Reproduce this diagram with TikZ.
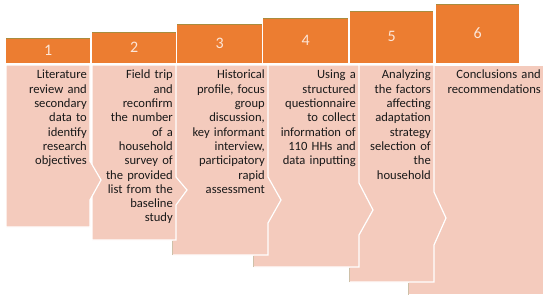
\documentclass[tikz,border=0pt]{standalone}
\usepackage{fontspec}
\setmainfont{Carlito}
\usetikzlibrary{positioning}
\definecolor{stageorange}{RGB}{236,125,49}
\definecolor{stagepink}{RGB}{244,203,189}
\definecolor{stagenum}{RGB}{252,230,216}
\definecolor{stageolive}{RGB}{168,140,62}
\definecolor{stagetan}{RGB}{206,192,168}
\begin{document}
\begin{tikzpicture}[x=1pt, y=-1pt,
        header/.style={rectangle, fill=stageorange, draw=none, anchor=south west, inner sep=0pt, minimum width=84pt, text=stagenum, font=\fontsize{16}{18}\selectfont},
        headtop/.style={draw=stageolive, line width=1.5pt},
        panel/.style={fill=stagepink, draw=white, line width=1.2pt, line join=miter},
        edge/.style={draw=stagetan, line width=1pt},
        steptext/.style={anchor=north east, align=right, text width=110pt, inner sep=0pt, text=black!90, font=\fontsize{12.6}{14.3}\selectfont}
    ]
        \useasboundingbox (0,0) rectangle (550,300);
        \path[panel] (408,65) -- (544,65) -- (544,295) -- (408,295) -- cycle;
        \path[panel] (349,65) -- (434,65) -- (434,192) -- (446,218) -- (434,245) -- (434,282) -- (349,282) -- cycle;
        \path[panel] (253,65) -- (359,65) -- (359,183) -- (373,210) -- (359,235) -- (359,267) -- (253,267) -- cycle;
        \path[panel] (172,65) -- (268,65) -- (268,177) -- (281,200) -- (268,223) -- (268,255) -- (172,255) -- cycle;
        \path[panel] (92,65) -- (176,65) -- (176,177) -- (187,190) -- (176,205) -- (176,240) -- (92,240) -- cycle;
        \path[panel] (6,65) -- (90,65) -- (90,161) -- (101,180) -- (90,200) -- (90,227) -- (6,227) -- cycle;
        \draw[edge] (172.5,240.5) -- (172.5,255);
        \draw[edge] (253.5,255.5) -- (253.5,267);
        \draw[edge] (349.5,267.5) -- (349.5,282);
        \draw[edge] (408.5,282.5) -- (408.5,295);

        \node[header, minimum height=25pt] (h1) at (6,63) {1};
        \node[header, minimum height=31pt] (h2) at (92,63) {2};
        \node[header, minimum height=39pt, minimum width=85pt] (h3) at (177,63) {3};
        \node[header, minimum height=45pt, minimum width=85pt] (h4) at (263,63) {4};
        \node[header, minimum height=52pt, minimum width=83pt] (h5) at (350,63) {5};
        \node[header, minimum height=59pt, minimum width=83pt] (h6) at (436,63) {6};
        \foreach \h in {h1,h2,h3,h4,h5,h6}
            \draw[headtop] ([yshift=-0.75pt]\h.north west) -- ([yshift=-0.75pt]\h.north east);

        \node[steptext] (t1) at (87,70) {Literature\\review and\\secondary\\data to\\identify\\research\\objectives};
        \node[steptext] (t2) at (173,70) {Field trip\\and\\reconfirm\\the number\\of a\\household\\survey of\\the provided\\list from the\\baseline\\study};
        \node[steptext] (t3) at (265,70) {Historical\\profile, focus\\group\\discussion,\\key informant\\interview,\\participatory\\rapid\\assessment};
        \node[steptext] (t4) at (356,70) {Using a\\structured\\questionnaire\\to collect\\information of\\110 HHs and\\data inputting};
        \node[steptext] (t5) at (431,70) {Analyzing\\the factors\\affecting\\adaptation\\strategy\\selection of\\the\\household};
        \node[steptext] (t6) at (541,70) {Conclusions and\\recommendations};
    \end{tikzpicture}
\end{document}
